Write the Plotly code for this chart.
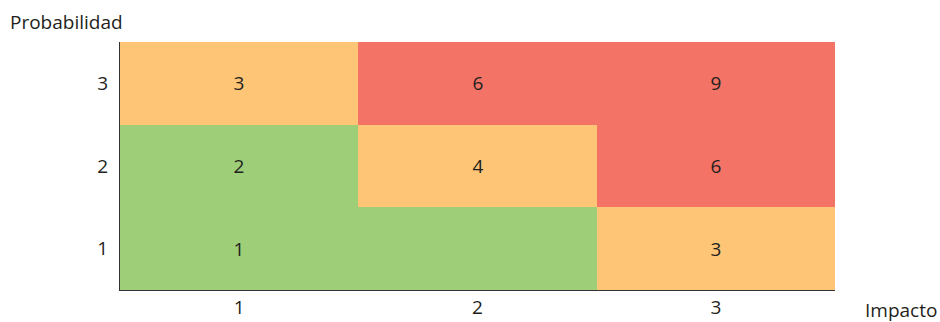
import plotly.graph_objects as go

# Risk matrix: impact (columns) x probability (rows)
impacto = [1, 2, 3]
probabilidad = [1, 2, 3]

# Risk score = probability x impact, one row per probability level
puntaje = [
    [1, 2, 3],
    [2, 4, 6],
    [3, 6, 9],
]

# Labels printed in each cell (the low-impact-2 cell carries no label)
etiquetas = [
    ["1", "", "3"],
    ["2", "4", "6"],
    ["3", "6", "9"],
]

# Colour bands over z in [1, 9]: low (<=2) green, medium (3-4) orange, high (>=6) red
verde = "#9ECE78"
naranja = "#FDC575"
rojo = "#F37366"
escala = [
    [0.0, verde], [0.1875, verde],
    [0.1875, naranja], [0.5, naranja],
    [0.5, rojo], [1.0, rojo],
]

FONT = "Open Sans, Arial, sans-serif"
TXT = "#231F20"
SIZE = 19
WEIGHT = 500

def fuente():
    return dict(family=FONT, size=SIZE, color=TXT, weight=WEIGHT)

fig = go.Figure(
    go.Heatmap(
        x=impacto,
        y=probabilidad,
        z=puntaje,
        text=etiquetas,
        texttemplate="%{text}",
        textfont=fuente(),
        colorscale=escala,
        zmin=1,
        zmax=9,
        showscale=False,
        hoverinfo="skip",
    )
)

fig.update_layout(
    width=940,
    height=322,
    margin=dict(l=120, r=105, t=42, b=32),
    paper_bgcolor="white",
    plot_bgcolor="white",
    font=fuente(),
    xaxis=dict(
        tickvals=impacto,
        ticktext=[str(v) for v in impacto],
        showline=True,
        linecolor="#333333",
        linewidth=1,
        showgrid=False,
        zeroline=False,
        ticks="",
        tickfont=fuente(),
        automargin=False,
    ),
    yaxis=dict(
        tickvals=probabilidad,
        ticktext=[str(v) for v in probabilidad],
        showline=True,
        linecolor="#333333",
        linewidth=1,
        showgrid=False,
        zeroline=False,
        ticks="outside",
        ticklen=7,
        tickcolor="rgba(0,0,0,0)",
        tickfont=fuente(),
        automargin=False,
    ),
    annotations=[
        dict(
            text="Probabilidad",
            xref="paper", yref="paper",
            x=-112 / 715, y=1 + 20 / 248,
            xanchor="left", yanchor="middle",
            showarrow=False,
            font=fuente(),
        ),
        dict(
            text="Impacto",
            xref="paper", yref="paper",
            x=1 + 104 / 715, y=-20 / 248,
            xanchor="right", yanchor="middle",
            showarrow=False,
            font=fuente(),
        ),
    ],
)

fig.write_html("out.html")
